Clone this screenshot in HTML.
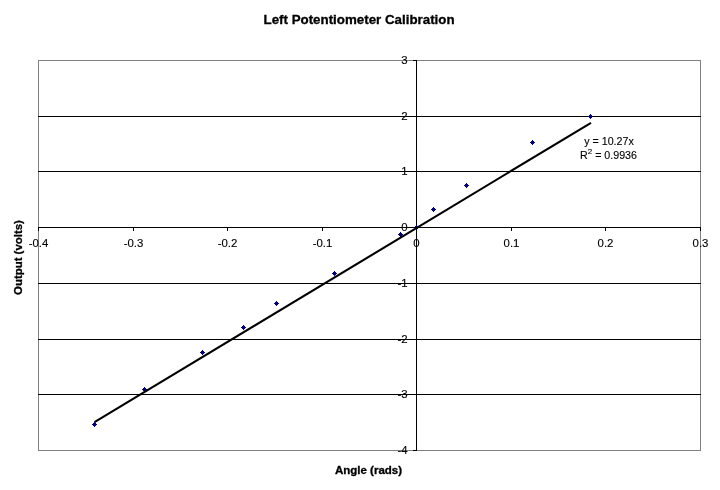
<!DOCTYPE html><html><head><meta charset="utf-8"><title>Left Potentiometer Calibration</title>
<style>html,body{margin:0;padding:0;background:#fff;overflow:hidden}svg{display:block}text{font-family:"Liberation Sans",Arial,Helvetica,sans-serif;fill:#000}.t{font-size:10.67px;stroke:#000;stroke-width:.12px}.b{font-weight:bold;stroke:#000;stroke-width:.3px}</style></head><body>
<svg width="720" height="490" viewBox="0 0 720 490">
<rect x="0" y="0" width="720" height="490" fill="#fff"/>
<rect x="38.5" y="60.5" width="662" height="390" fill="none" stroke="#808080" stroke-width="1" shape-rendering="crispEdges"/>
<g stroke="#000" stroke-width="1" shape-rendering="crispEdges">
<line x1="38" y1="116.5" x2="701" y2="116.5"/>
<line x1="38" y1="171.5" x2="701" y2="171.5"/>
<line x1="38" y1="227.5" x2="701" y2="227.5"/>
<line x1="38" y1="283.5" x2="701" y2="283.5"/>
<line x1="38" y1="339.5" x2="701" y2="339.5"/>
<line x1="38" y1="394.5" x2="701" y2="394.5"/>
<line x1="416.5" y1="60" x2="416.5" y2="451"/>
<line x1="413" y1="60.5" x2="417" y2="60.5"/>
<line x1="413" y1="116.5" x2="417" y2="116.5"/>
<line x1="413" y1="171.5" x2="417" y2="171.5"/>
<line x1="413" y1="227.5" x2="417" y2="227.5"/>
<line x1="413" y1="283.5" x2="417" y2="283.5"/>
<line x1="413" y1="339.5" x2="417" y2="339.5"/>
<line x1="413" y1="394.5" x2="417" y2="394.5"/>
<line x1="413" y1="450.5" x2="417" y2="450.5"/>
<line x1="38.5" y1="227" x2="38.5" y2="231"/>
<line x1="133.5" y1="227" x2="133.5" y2="231"/>
<line x1="227.5" y1="227" x2="227.5" y2="231"/>
<line x1="322.5" y1="227" x2="322.5" y2="231"/>
<line x1="416.5" y1="227" x2="416.5" y2="231"/>
<line x1="511.5" y1="227" x2="511.5" y2="231"/>
<line x1="605.5" y1="227" x2="605.5" y2="231"/>
<line x1="700.5" y1="227" x2="700.5" y2="231"/>
</g>
<g fill="#000080" shape-rendering="crispEdges">
<rect x="92" y="424" width="5" height="1"/><rect x="93" y="423" width="3" height="3"/><rect x="94" y="422" width="1" height="5"/>
<rect x="142" y="389" width="5" height="1"/><rect x="143" y="388" width="3" height="3"/><rect x="144" y="387" width="1" height="5"/>
<rect x="200" y="352" width="5" height="1"/><rect x="201" y="351" width="3" height="3"/><rect x="202" y="350" width="1" height="5"/>
<rect x="241" y="327" width="5" height="1"/><rect x="242" y="326" width="3" height="3"/><rect x="243" y="325" width="1" height="5"/>
<rect x="274" y="303" width="5" height="1"/><rect x="275" y="302" width="3" height="3"/><rect x="276" y="301" width="1" height="5"/>
<rect x="332" y="273" width="5" height="1"/><rect x="333" y="272" width="3" height="3"/><rect x="334" y="271" width="1" height="5"/>
<rect x="398" y="234" width="5" height="1"/><rect x="399" y="233" width="3" height="3"/><rect x="400" y="232" width="1" height="5"/>
<rect x="414" y="227" width="5" height="1"/><rect x="415" y="226" width="3" height="3"/><rect x="416" y="225" width="1" height="5"/>
<rect x="431" y="209" width="5" height="1"/><rect x="432" y="208" width="3" height="3"/><rect x="433" y="207" width="1" height="5"/>
<rect x="464" y="185" width="5" height="1"/><rect x="465" y="184" width="3" height="3"/><rect x="466" y="183" width="1" height="5"/>
<rect x="530" y="142" width="5" height="1"/><rect x="531" y="141" width="3" height="3"/><rect x="532" y="140" width="1" height="5"/>
<rect x="588" y="116" width="5" height="1"/><rect x="589" y="115" width="3" height="3"/><rect x="590" y="114" width="1" height="5"/>
</g>
<line x1="94.5" y1="422.2" x2="591" y2="122.8" stroke="#000" stroke-width="2.1"/>
<g class="t" text-anchor="end">
<text transform="translate(407.6 64) scale(1.07 1)">3</text>
<text transform="translate(407.6 120) scale(1.07 1)">2</text>
<text transform="translate(407.6 175) scale(1.07 1)">1</text>
<text transform="translate(407.6 231) scale(1.07 1)">0</text>
<text transform="translate(407.6 287) scale(1.07 1)">-1</text>
<text transform="translate(407.6 343) scale(1.07 1)">-2</text>
<text transform="translate(407.6 398) scale(1.07 1)">-3</text>
<text transform="translate(407.6 454) scale(1.07 1)">-4</text>
</g>
<g class="t" text-anchor="middle">
<text transform="translate(38.5 247) scale(1.07 1)">-0.4</text>
<text transform="translate(133.5 247) scale(1.07 1)">-0.3</text>
<text transform="translate(227.5 247) scale(1.07 1)">-0.2</text>
<text transform="translate(322.5 247) scale(1.07 1)">-0.1</text>
<text transform="translate(416.5 247) scale(1.07 1)">0</text>
<text transform="translate(511.5 247) scale(1.07 1)">0.1</text>
<text transform="translate(605.5 247) scale(1.07 1)">0.2</text>
<text transform="translate(700.5 247) scale(1.07 1)">0.3</text>
</g>
<text class="t" text-anchor="middle" x="609" y="145">y = 10.27x</text>
<text class="t" text-anchor="middle" x="608.5" y="158.5">R<tspan font-size="8px" dy="-4.5">2</tspan><tspan dy="4.5"> = 0.9936</tspan></text>
<text class="b" font-size="12.6px" text-anchor="middle" transform="translate(359.05 24) scale(1.058 1)">Left Potentiometer Calibration</text>
<text class="b" font-size="10.67px" text-anchor="middle" transform="translate(368.5 473.8) scale(1.08 1)">Angle (rads)</text>
<text class="b" font-size="10.67px" text-anchor="middle" transform="translate(21.9 257.55) rotate(-90) scale(1.071 1)">Output (volts)</text>
</svg></body></html>
